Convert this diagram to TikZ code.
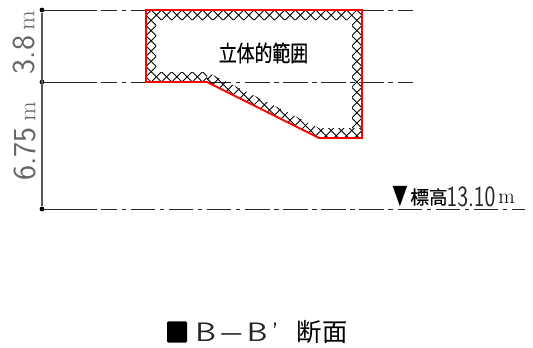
\documentclass[tikz,border=0pt]{standalone}
\usepackage{fontspec}
\usepackage{graphicx}
\newfontfamily\cjkfont[FakeBold=0.6]{Noto Sans CJK JP}
\newfontfamily\cjkthin{Noto Sans CJK JP}
\newfontfamily\symfont{DejaVu Sans}
\usetikzlibrary{positioning}

\begin{document}
\begin{tikzpicture}[x=0.75pt,y=-0.75pt]
    \tikzset{leveldot/.style={circle,fill=black,inner sep=0pt,minimum size=3.6pt},
        levelline/.style={line width=0.75pt,black!85},
        centerline/.style={levelline,dash pattern=on 18.4pt off 3.4pt on 3.4pt off 3.4pt,dash phase=6.4pt},
        hatchline/.style={line width=0.65pt,black},
        outline/.style={line width=1.4pt,red,line join=miter},
        zlabel/.style={inner sep=0pt,font=\cjkfont\fontsize{13.4pt}{14pt}\selectfont},
        dimlabel/.style={inner sep=0pt,rotate=90,black!60,font=\sffamily\fontsize{24pt}{25pt}\selectfont}}
    \useasboundingbox (0,0) rectangle (533,347);

    % level lines
    \foreach \n/\y/\e in {top/10/413,mid/82/413,base/209/525}{
        \node[leveldot] (\n) at (42,\y) {};
        \draw[levelline] (\n.center) -- (97,\y);
        \draw[centerline] (101,\y) -- (\e,\y);
    }
    \draw[line width=1.1pt,black!65] (top) -- (base);

    % hatched band
    \begin{scope}
        \clip (146,10) -- (362,10) -- (362,128) -- (352,128) -- (352,20) -- (156,20) -- (156,72) -- (207,72) -- (207,82) -- (146,82) -- cycle;
        \foreach \k in {-16,...,36}{
            \draw[hatchline] (146+\k*10.286+5.14,10) -- ++(135,135);
            \draw[hatchline] (146+\k*10.286+5.14,10) -- ++(-135,135);
        }
    \end{scope}
    \begin{scope}
        \clip (207,82) -- (319,138) -- (362,138) -- (362,128) -- (319,128) -- (207,72) -- cycle;
        \foreach \k in {-8,...,38}{
            \draw[hatchline] (146+\k*10.286+5.14,2) -- ++(140,140);
            \draw[hatchline] (146+\k*10.286+5.14,2) -- ++(-140,140);
        }
    \end{scope}
    \draw[outline] (146,10) -- (362,10) -- (362,138) -- (319,138) -- (207,82) -- (146,82) -- cycle;

    % labels
    \node[zlabel] (range) at (263.5,53) {\scalebox{1}[1.25]{立体的範囲}};
    \node[dimlabel] (dimupper) at (24,42.5) {3.8\,\scalebox{0.8}[0.75]{\rmfamily m}};
    \node[dimlabel] (dimlower) at (25,141.5) {6.75\,\scalebox{0.8}[0.75]{\rmfamily m}};

    \node[inner sep=0pt,font=\symfont\fontsize{20pt}{21pt}\selectfont] (mark) at (400,197) {\scalebox{0.72}[1]{▼}};
    \node[inner sep=0pt,font=\cjkfont\fontsize{14pt}{15pt}\selectfont] (height) at (429,197) {標高};
    \node[inner sep=0pt,font=\sffamily\fontsize{22pt}{23pt}\selectfont,black!85] (value) at (471,197) {\scalebox{0.78}[1]{13.10}};
    \node[inner sep=0pt,font=\rmfamily\fontsize{16pt}{17pt}\selectfont] (unit) at (506.5,199) {m};

    \node[fill=black,rounded corners=1pt,minimum width=15pt,minimum height=16pt,inner sep=0pt] (square) at (177,332) {};
    \node[inner sep=0pt,font=\sffamily\fontsize{20pt}{21pt}\selectfont,black!85] (section) at (237,332) {\scalebox{1.25}[1]{B}\kern4pt\scalebox{1.6}[1]{–}\kern4pt\scalebox{1.25}[1]{B}\kern3pt’};
    \node[inner sep=0pt,font=\cjkthin\fontsize{19pt}{20pt}\selectfont] (cut) at (322,332) {断面};
\end{tikzpicture}
\end{document}
